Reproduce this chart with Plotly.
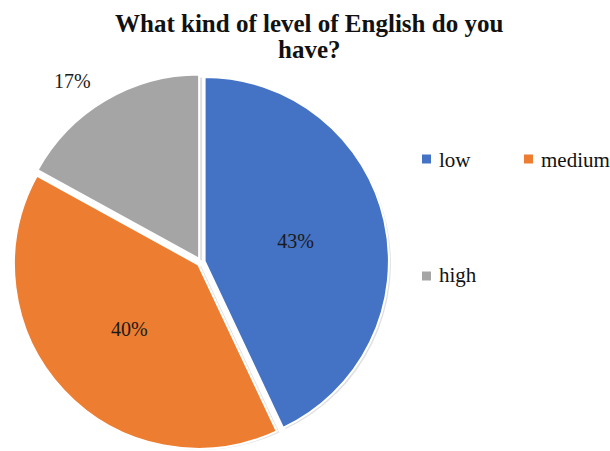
import plotly.graph_objects as go

# Survey answers: self-assessed English level
labels = ["low", "medium", "high"]
shares = [43, 40, 17]
colors = ["#4472C4", "#ED7D31", "#A5A5A5"]
inside_labels = [True, True, False]

title_lines = ["What kind of level of English do you", "have?"]
serif = "Liberation Serif"

W, H = 610, 451


def px(x, y):
    """Convert pixel position (from top-left) to paper coordinates."""
    return x / W, 1 - y / H


# pie placement (pixels): center and outer radius including the pull
cx, cy, R = 201, 262, 188
pie_domain = dict(x=[(cx - R) / W, (cx + R) / W], y=[(H - cy - R) / H, (H - cy + R) / H])

fig = go.Figure()

# soft drop shadow under the pie
sh = 3
fig.add_trace(go.Pie(
    labels=labels, values=shares, sort=False, direction="clockwise", rotation=0,
    marker=dict(colors=["rgba(0,0,0,0.12)"] * 3, line=dict(width=0)),
    pull=[0.02, 0.02, 0.02], textinfo="none", hoverinfo="skip", showlegend=False,
    domain=dict(x=[(cx - R + sh) / W, (cx + R + sh) / W],
                y=[max(0, (H - cy - R - sh) / H), (H - cy + R - sh) / H]),
))

fig.add_trace(go.Pie(
    labels=labels, values=shares, sort=False, direction="clockwise", rotation=0,
    marker=dict(colors=colors, line=dict(color="white", width=2)),
    pull=[0.02, 0.02, 0.02],
    text=[f"{v}%" if ins else "" for v, ins in zip(shares, inside_labels)],
    textinfo="text", textposition="inside",
    insidetextfont=dict(family=serif, size=20, color="#1a1a1a"),
    showlegend=False, domain=pie_domain,
))

annotations = []
shapes = []

# the small "high" slice carries its label just outside the pie
for v, ins in zip(shares, inside_labels):
    if not ins:
        ox, oy = px(72, 81)
        annotations.append(dict(x=ox, y=oy, xref="paper", yref="paper", text=f"{v}%",
                                showarrow=False, xanchor="center", yanchor="middle",
                                font=dict(family=serif, size=20, color="#1a1a1a")))

# title, one annotation per line for tight line spacing
for line, base_y in zip(title_lines, [23, 50]):
    tx, ty = px(309, base_y)
    annotations.append(dict(x=tx, y=ty, xref="paper", yref="paper", text=f"<b>{line}</b>",
                            showarrow=False, xanchor="center", yanchor="middle",
                            font=dict(family=serif, size=25, color="#111111")))

# legend: colored squares with labels
legend_pos = [(426.5, 159, 160), (528.5, 159, 160), (426.5, 276, 275)]
for (mx, my, ty), lab, col in zip(legend_pos, labels, colors):
    x0, y0 = px(mx - 4.5, my + 4.5)
    x1, y1 = px(mx + 4.5, my - 4.5)
    shapes.append(dict(type="rect", xref="paper", yref="paper", x0=x0, y0=y0, x1=x1, y1=y1,
                       fillcolor=col, line=dict(width=0)))
    lx, ly = px(mx + 10, ty)
    annotations.append(dict(x=lx, y=ly, xref="paper", yref="paper", text=lab,
                            showarrow=False, xanchor="left", yanchor="middle",
                            font=dict(size=21, color="#111111", family=serif)))

fig.update_layout(
    width=W, height=H,
    margin=dict(l=0, r=0, t=0, b=0),
    paper_bgcolor="white", plot_bgcolor="white",
    annotations=annotations, shapes=shapes,
)

fig.write_html("out.html")
